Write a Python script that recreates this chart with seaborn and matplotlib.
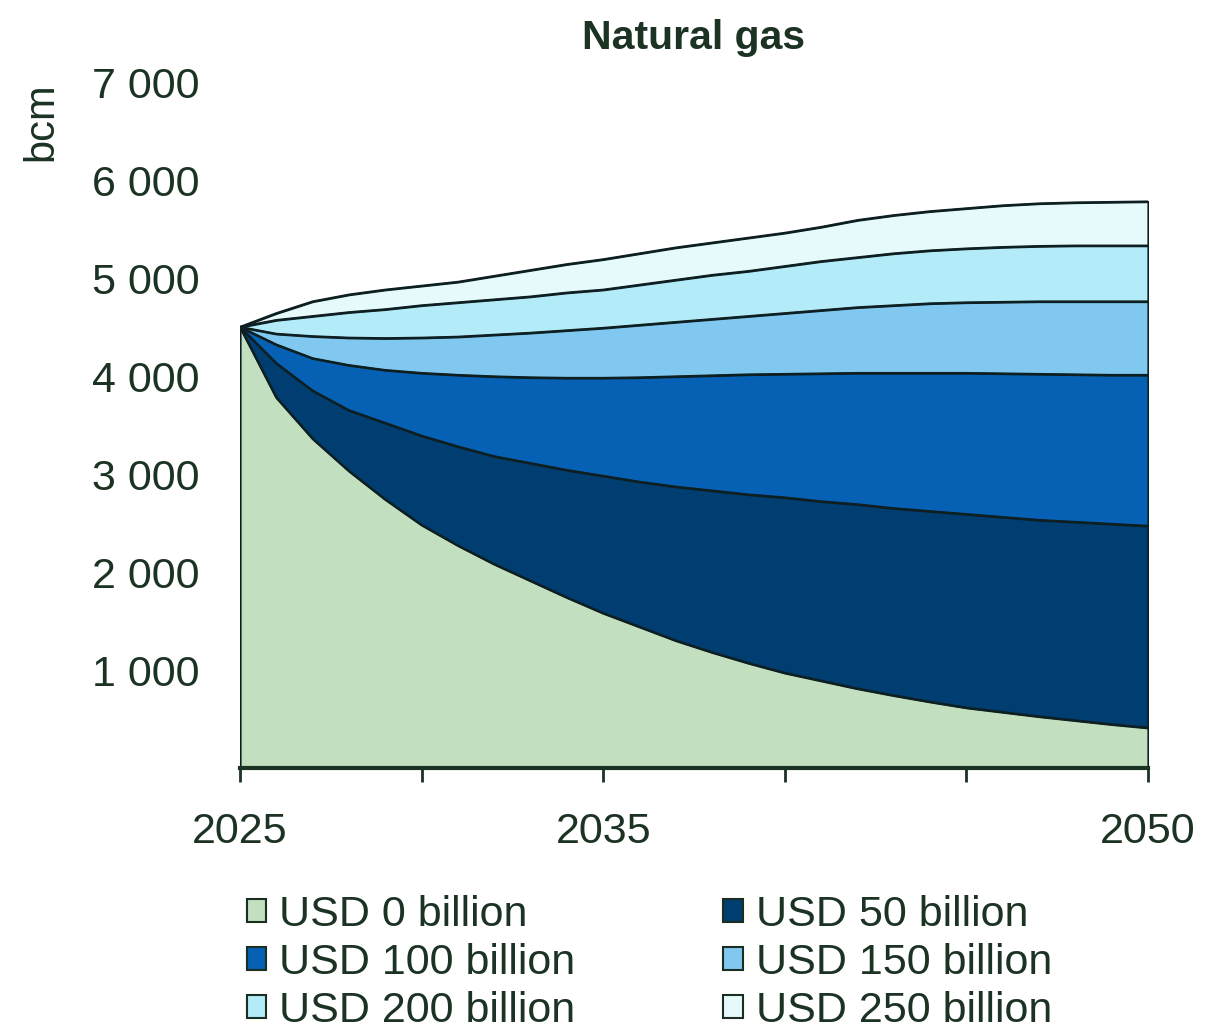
import numpy as np
import pandas as pd
import matplotlib
matplotlib.use("Agg")
import matplotlib.pyplot as plt
from matplotlib.patches import Patch
import seaborn as sns

# values (bcm), one per year 2025-2050
years = list(range(2025, 2051))

usd_0 = [4500, 3780, 3360, 3030, 2740, 2480, 2270, 2080, 1910, 1740, 1580, 1440, 1300,
         1180, 1070, 970, 890, 810, 740, 675, 615, 570, 525, 485, 445, 410]
usd_50 = [4500, 4130, 3850, 3650, 3520, 3390, 3280, 3180, 3110, 3040, 2980, 2920, 2870,
          2830, 2790, 2760, 2720, 2690, 2650, 2620, 2590, 2560, 2530, 2510, 2490, 2470]
usd_100 = [4500, 4320, 4180, 4110, 4060, 4030, 4010, 3995, 3985, 3980, 3980, 3985, 3995,
           4005, 4015, 4020, 4025, 4030, 4030, 4030, 4030, 4025, 4020, 4015, 4010, 4010]
usd_150 = [4500, 4430, 4405, 4390, 4385, 4390, 4400, 4420, 4440, 4465, 4490, 4520, 4550,
           4580, 4610, 4640, 4670, 4700, 4720, 4740, 4750, 4755, 4760, 4760, 4760, 4760]
usd_200 = [4500, 4570, 4610, 4650, 4680, 4720, 4750, 4780, 4810, 4850, 4880, 4930, 4980,
           5030, 5070, 5120, 5170, 5210, 5250, 5280, 5300, 5315, 5325, 5330, 5330, 5330]
usd_250 = [4500, 4640, 4760, 4830, 4880, 4920, 4960, 5020, 5080, 5140, 5190, 5250, 5310,
           5360, 5410, 5460, 5520, 5590, 5640, 5680, 5710, 5740, 5760, 5770, 5775, 5780]

labels = ["USD 0 billion", "USD 50 billion", "USD 100 billion",
          "USD 150 billion", "USD 200 billion", "USD 250 billion"]
colors = ["#c2dfc0", "#003d70", "#0660b3", "#80c8f0", "#b4ebf8", "#e6fafc"]
series = [usd_0, usd_50, usd_100, usd_150, usd_200, usd_250]

ytick_vals = [1000, 2000, 3000, 4000, 5000, 6000, 7000]
xtick_vals = [2025, 2030, 2035, 2040, 2045, 2050]
xtick_labels = ["2025", "", "2035", "", "", "2050"]

txt = "#1c3324"
edge = "#0e1f22"

sns.set_theme(style="white")
plt.rcParams["font.family"] = ["Liberation Sans", "DejaVu Sans"]

df = pd.DataFrame({"year": years * len(series),
                   "bcm": sum(series, []),
                   "case": [l for l in labels for _ in years]})

fig = plt.figure(figsize=(12.05, 10.23), dpi=100)
ax = fig.add_axes([240 / 1205, (1023 - 768) / 1023, 908 / 1205, 686 / 1023])

# back to front: biggest investment first
for vals, col in zip(series[::-1], colors[::-1]):
    ax.fill_between(years, 0, vals, facecolor=col, edgecolor=edge, lw=1.6, zorder=2)

sns.lineplot(data=df, x="year", y="bcm", hue="case", palette=[edge] * 6,
             legend=False, lw=1.6, ax=ax, zorder=3)

ax.set_xlim(2025, 2050)
ax.set_ylim(0, 7000)
ax.set_yticks(ytick_vals)
ax.set_yticklabels([f"{v:,}".replace(",", " ") for v in ytick_vals])
ax.set_xticks(xtick_vals)
ax.set_xticklabels(xtick_labels)
ax.tick_params(axis="y", length=0, pad=29, labelsize=31, labelcolor=txt)
ax.tick_params(axis="x", length=10, width=2, color=txt, pad=22, labelsize=31,
               labelcolor=txt, direction="out", bottom=True)
ax.set_xlabel("")
ax.set_ylabel("bcm", fontsize=30, color=txt, loc="top")
ax.yaxis.set_label_coords(-0.197, 1.0)

for s in ["left", "top", "right"]:
    ax.spines[s].set_visible(False)
ax.spines["bottom"].set_color(txt)
ax.spines["bottom"].set_linewidth(3)
ax.spines["bottom"].set_zorder(5)

ax.set_title("Natural gas", fontsize=29.5, fontweight="bold", color=txt, pad=24)

# legend: two columns, row order 0/50, 100/150, 200/250
order = [0, 2, 4, 1, 3, 5]
handles = [Patch(facecolor=colors[i], edgecolor="#1a2e22", lw=1.5) for i in order]
fig.legend(handles, [labels[i] for i in order], ncol=2, frameon=False,
           loc="upper left", bbox_to_anchor=(225 / 1205, 1 - 873 / 1023),
           fontsize=31, labelcolor=txt, borderpad=0, handlelength=0.45,
           handleheight=0.45, handletextpad=0.3, labelspacing=0.19,
           columnspacing=3.45)

fig.savefig("out.png", dpi=100)
